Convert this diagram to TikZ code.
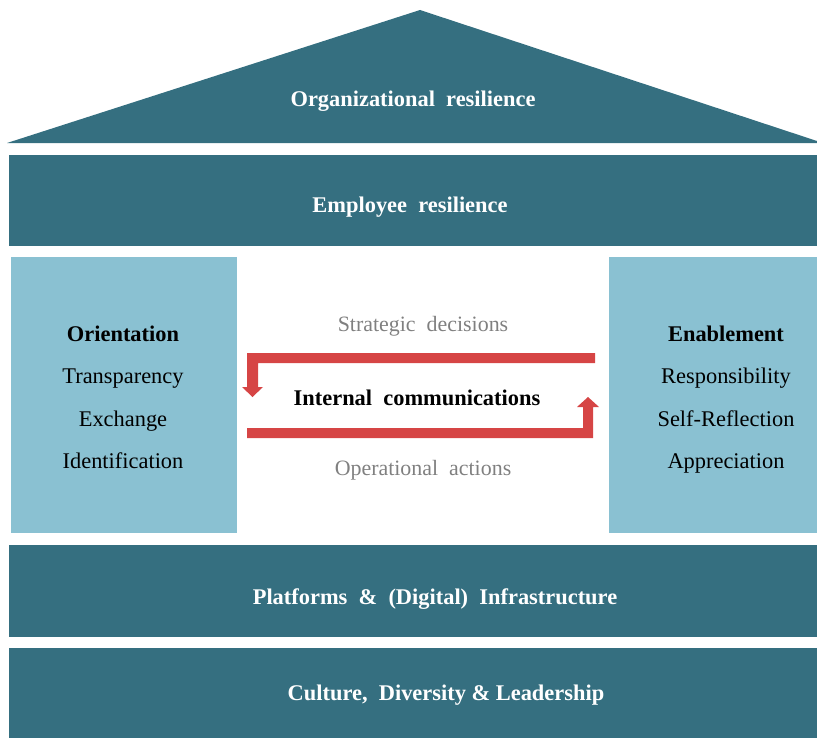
\documentclass[tikz,border=0pt]{standalone}
\usepackage{fontspec}
\setmainfont{Liberation Serif}
\definecolor{teal}{HTML}{356F80}
\definecolor{lightblue}{HTML}{8AC1D2}
\definecolor{arrowred}{HTML}{D64545}
\definecolor{graytext}{HTML}{808080}
\tikzset{
  band/.style={fill=teal, draw=none},
  pillar/.style={fill=lightblue, draw=none},
  bandtext/.style={text=white, font=\fontsize{22.5}{27}\selectfont\bfseries, inner sep=0pt, anchor=base},
  pillartext/.style={text=black, font=\fontsize{22.5}{27}\selectfont, inner sep=0pt, anchor=base},
  graylabel/.style={text=graytext, font=\fontsize{22}{26}\selectfont, inner sep=0pt, anchor=base},
  redarrow/.style={fill=arrowred, draw=none}
}
\begin{document}
\begin{tikzpicture}[x=1bp,y=-1bp]
\useasboundingbox (0,0) rectangle (817,738);
% roof
\fill[band] (7,143) -- (420,10) -- (817,141) -- (817,143) -- cycle;
\node[bandtext] (roof) at (413,106) {Organizational\ \ resilience};
% employee band
\fill[band] (9,155) rectangle (817,246);
\node[bandtext] (emp) at (410,212) {Employee\ \ resilience};
% pillars
\fill[pillar] (11,257) rectangle (237,533);
\fill[pillar] (609,257) rectangle (817,533);
\node[pillartext] (ori) at (123,341) {\bfseries Orientation};
\node[pillartext] (tra) at (123,383) {Transparency};
\node[pillartext] (exc) at (123,426) {Exchange};
\node[pillartext] (ide) at (123,468) {Identification};
\node[pillartext] (ena) at (726,341) {\bfseries Enablement};
\node[pillartext] (res) at (726,383) {Responsibility};
\node[pillartext] (sel) at (726,426) {Self-Reflection};
\node[pillartext] (app) at (726,468) {Appreciation};
% center
\node[graylabel] (strat) at (423,331) {Strategic\ \ decisions};
\node[graylabel] (oper) at (423,475) {Operational\ \ actions};
\node[pillartext, font=\fontsize{22.5}{27}\selectfont\bfseries] (ic) at (417,405) {Internal\ \ communications};
% red arrows
\fill[redarrow] (595,353) -- (247,353) -- (247,387) -- (242,387) -- (252.5,397) -- (263,387) -- (258,387) -- (258,363) -- (595,363) -- cycle;
\fill[redarrow] (247,438) -- (593,438) -- (593,407) -- (599,407) -- (588,397) -- (577,407) -- (583,407) -- (583,428) -- (247,428) -- cycle;
% bottom bands
\fill[band] (9,545) rectangle (817,637);
\node[bandtext] (plat) at (435,604) {Platforms\ \ \&\ \ (Digital)\ \ Infrastructure};
\fill[band] (9,648) rectangle (817,738);
\node[bandtext] (cult) at (446,700) {Culture,\ \ Diversity\ \&\ Leadership};
\end{tikzpicture}
\end{document}
